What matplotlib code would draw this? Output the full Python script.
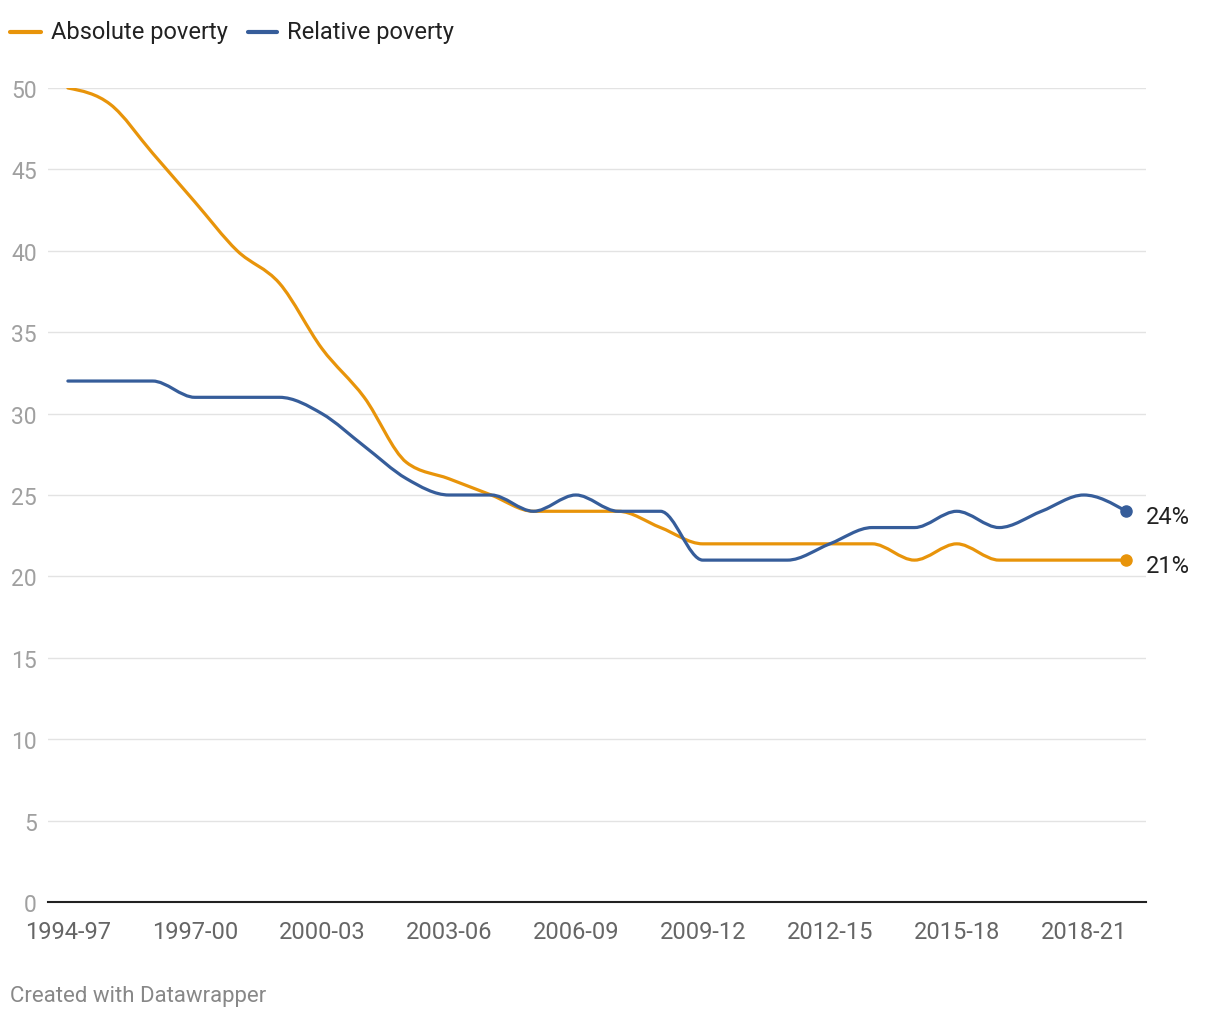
import matplotlib
matplotlib.use("Agg")
import matplotlib.pyplot as plt
import numpy as np
from matplotlib.path import Path
from matplotlib.patches import PathPatch
from matplotlib.lines import Line2D

plt.rcParams['font.family'] = ['Roboto', 'DejaVu Sans']

# Периоды (трёхлетние окна)
periods = ['1994-97', '1995-98', '1996-99', '1997-00', '1998-01', '1999-02',
           '2000-03', '2001-04', '2002-05', '2003-06', '2004-07', '2005-08',
           '2006-09', '2007-10', '2008-11', '2009-12', '2010-13', '2011-14',
           '2012-15', '2013-16', '2014-17', '2015-18', '2016-19', '2017-20',
           '2018-21', '2019-22']

absolute = [50, 49, 46, 43, 40, 38, 34, 31, 27, 26, 25, 24, 24, 24, 23, 22,
            22, 22, 22, 22, 21, 22, 21, 21, 21, 21]
relative = [32, 32, 32, 31, 31, 31, 30, 28, 26, 25, 25, 24, 25, 24, 24, 21,
            21, 21, 22, 23, 23, 24, 23, 24, 25, 24]

tick_labels = periods[::3]

orange = '#e8940a'
blue = '#365d9a'


def monotone_path(x, y):
    # кривая monotoneX как в d3: кубические Безье между точками
    x = np.asarray(x, float)
    y = np.asarray(y, float)
    n = len(x)
    h = np.diff(x)
    s = np.diff(y) / h
    t = np.zeros(n)
    for i in range(1, n - 1):
        p = (s[i - 1] * h[i] + s[i] * h[i - 1]) / (h[i - 1] + h[i])
        t[i] = (np.sign(s[i - 1]) + np.sign(s[i])) * min(abs(s[i - 1]), abs(s[i]), 0.5 * abs(p))
    t[0] = (3 * s[0] - t[1]) / 2
    t[-1] = (3 * s[-1] - t[-2]) / 2
    verts = [(x[0], y[0])]
    codes = [Path.MOVETO]
    for i in range(n - 1):
        dx = h[i] / 3
        verts += [(x[i] + dx, y[i] + dx * t[i]),
                  (x[i + 1] - dx, y[i + 1] - dx * t[i + 1]),
                  (x[i + 1], y[i + 1])]
        codes += [Path.CURVE4] * 3
    return Path(verts, codes)


fig = plt.figure(figsize=(12.2, 10.2), dpi=100)
ax = fig.add_axes([48 / 1220, 117 / 1020, 1098 / 1220, 814 / 1020])

xs = np.arange(len(periods))
for vals, col in [(absolute, orange), (relative, blue)]:
    ax.add_patch(PathPatch(monotone_path(xs, vals), facecolor='none',
                           edgecolor=col, linewidth=2.3, capstyle='round',
                           joinstyle='round', zorder=3))
    ax.plot(xs[-1], vals[-1], 'o', color=col, markersize=8, zorder=4)
    ax.annotate(f'{vals[-1]}%', (xs[-1], vals[-1]), xytext=(20, -5),
                textcoords='offset pixels', ha='left', va='center',
                fontsize=17, color='#222222')

ax.set_xlim(-0.47, len(periods) - 1 + 0.47)
ax.set_ylim(0, 50)
ax.set_yticks(range(0, 51, 5))
ax.set_xticks(xs[::3])
ax.set_xticklabels(tick_labels)

for v in range(5, 51, 5):
    ax.axhline(v, color='#e3e3e3', linewidth=1, zorder=1)

for sp in ['top', 'right', 'left']:
    ax.spines[sp].set_visible(False)
ax.spines['bottom'].set_color('#222222')
ax.spines['bottom'].set_linewidth(1.5)
ax.spines['bottom'].set_zorder(5)

ax.tick_params(axis='y', length=0, pad=8, labelsize=16.5, labelcolor='#a0a0a0')
ax.tick_params(axis='x', length=0, pad=13, labelsize=17, labelcolor='#666666')

# Легенда сверху
ly = 1 - 33 / 1020
fig.add_artist(Line2D([10 / 1220, 41 / 1220], [ly, ly], color=orange,
                      linewidth=3, solid_capstyle='round'))
fig.text(51 / 1220, ly, 'Absolute poverty', fontsize=17, color='#222222',
         va='center', ha='left')
fig.add_artist(Line2D([248 / 1220, 277 / 1220], [ly, ly], color=blue,
                      linewidth=3, solid_capstyle='round'))
fig.text(287 / 1220, ly, 'Relative poverty', fontsize=17, color='#222222',
         va='center', ha='left')

fig.text(10 / 1220, 1 - 997 / 1020, 'Created with Datawrapper', fontsize=16,
         color='#888888', va='center', ha='left')

fig.savefig('out.png', dpi=100)
